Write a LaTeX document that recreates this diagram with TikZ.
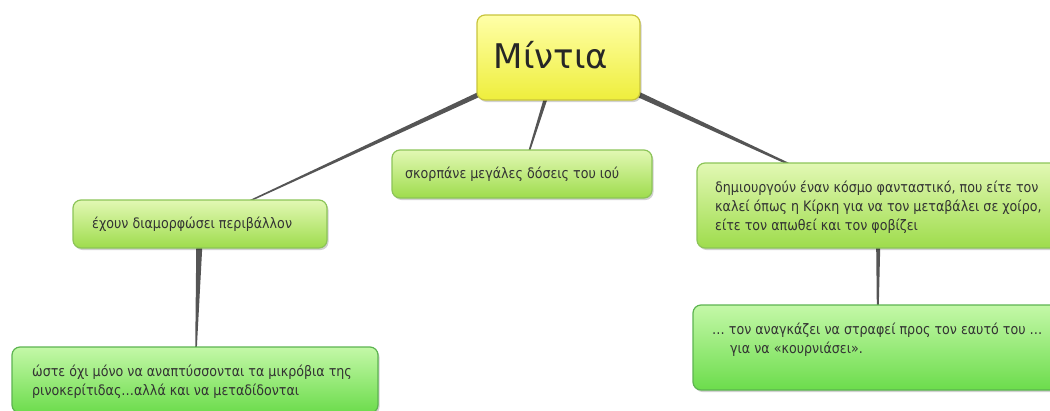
\documentclass[tikz,border=0pt]{standalone}
\usepackage{fontspec}
\setmainfont{DejaVu Sans}
\newfontfamily\boxfont[FakeStretch=0.88]{DejaVu Sans}
\usetikzlibrary{calc,shadows,backgrounds}
\definecolor{yelTop}{HTML}{FFFFA8}
\definecolor{yelBot}{HTML}{EEEE3C}
\definecolor{yelLine}{HTML}{C8C43C}
\definecolor{grTop}{HTML}{E2F8B4}
\definecolor{grBot}{HTML}{9EDC4C}
\definecolor{grLine}{HTML}{8CC458}
\definecolor{lgTop}{HTML}{C4F8A8}
\definecolor{lgBot}{HTML}{6CDC4C}
\definecolor{lgLine}{HTML}{5CB450}
\definecolor{connCol}{HTML}{555555}
\definecolor{txtCol}{HTML}{333333}
\tikzset{
  boxbase/.style={rounded corners=8pt, line width=1.2pt, inner sep=0pt,
    drop shadow={shadow xshift=1.5pt, shadow yshift=-2pt, fill=black, opacity=0.18}},
  mainbox/.style={boxbase, draw=yelLine, top color=yelTop, bottom color=yelBot},
  topicbox/.style={boxbase, draw=grLine, top color=grTop, bottom color=grBot},
  leafbox/.style={boxbase, draw=lgLine, top color=lgTop, bottom color=lgBot},
  boxtext/.style={inner sep=0pt, anchor=west, align=left, text=txtCol,
    font=\boxfont\fontsize{14.4}{19}\selectfont},
  conn/.style={fill=connCol}
}
\newcommand\taper[4]{%
  \fill[conn] let \p1=(#1), \p2=(#2), \n1={atan2(\y2-\y1,\x2-\x1)} in
    ($(\p1)+(\n1+90:#3)$) -- ($(\p2)+(\n1+90:#4)$) --
    ($(\p2)+(\n1-90:#4)$) -- ($(\p1)+(\n1-90:#3)$) -- cycle;}
\begin{document}
\begin{tikzpicture}[x=1pt,y=-1pt]
\useasboundingbox (0,0) rectangle (1050,410);
% boxes
\node[mainbox, minimum width=163pt, minimum height=85pt] (c) at (558.5,57.5) {};
\node[topicbox, minimum width=254pt, minimum height=48pt] (a) at (200,224) {};
\node[topicbox, minimum width=260pt, minimum height=48pt] (b) at (522,174) {};
\node[topicbox, minimum width=363pt, minimum height=85pt] (r) at (878.5,205.5) {};
\node[leafbox, minimum width=366pt, minimum height=66pt] (bl) at (195,380) {};
\node[leafbox, minimum width=369pt, minimum height=85pt] (br) at (877.5,347.5) {};
% connectors
\begin{scope}[on background layer]
\taper{c.center}{a.center}{3.1pt}{0.35pt}
\taper{c.center}{b.center}{2.6pt}{0.4pt}
\taper{c.center}{r.center}{3.6pt}{0.1pt}
\taper{a.center}{bl.center}{3.5pt}{0.1pt}
\taper{r.center}{br.center}{2.75pt}{0.25pt}
\end{scope}
% texts
\node[inner sep=0pt, text=black!85, font=\fontsize{34}{40}\selectfont] (ct) at (551,55) {Μίντια};
\node[boxtext] (at) at (92,224) {έχουν διαμορφώσει περιβάλλον};
\node[boxtext] (bt) at (405,174) {σκορπάνε μεγάλες δόσεις του ιού};
\node[boxtext] (rt) at (715,207) {δημιουργούν έναν κόσμο φανταστικό, που είτε τον\\καλεί όπως η Κίρκη για να τον μεταβάλει σε χοίρο,\\είτε τον απωθεί και τον φοβίζει};
\node[boxtext] (blt) at (32,381.5) {ώστε όχι μόνο να αναπτύσσονται τα μικρόβια της\\ρινοκερίτιδας…αλλά και να μεταδίδονται};
\node[boxtext] (brt) at (712,339.5) {… τον αναγκάζει να στραφεί προς τον εαυτό του …\\\hspace*{18pt}για να «κουρνιάσει».};
\end{tikzpicture}
\end{document}
